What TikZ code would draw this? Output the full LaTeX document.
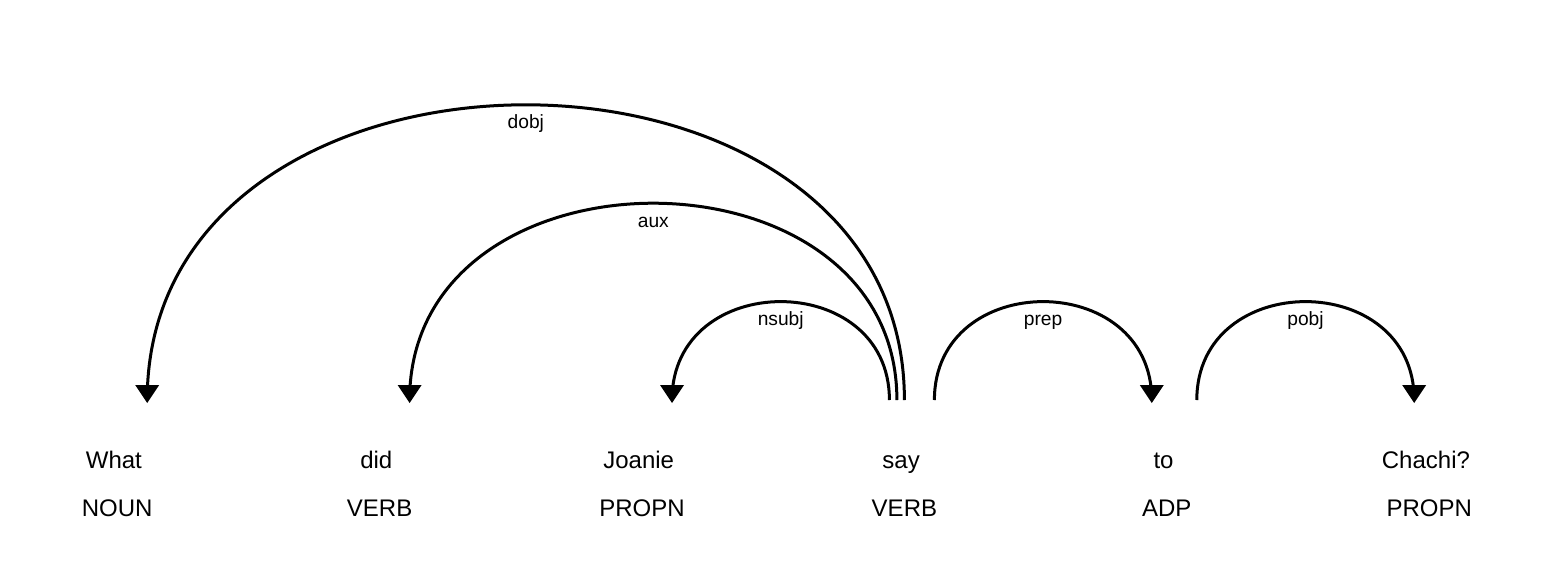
\documentclass[tikz,border=0pt]{standalone}
\usepackage{fontspec}
\setmainfont{Liberation Sans}
\tikzset{
  word/.style={anchor=base, inner sep=0pt, font=\fontsize{24}{28}\selectfont},
  tagtext/.style={anchor=base, inner sep=0pt, font=\fontsize{24}{28}\selectfont},
  deplabel/.style={anchor=base, inner sep=0pt, font=\fontsize{19.2}{22}\selectfont},
  arc/.style={draw=black, line width=3pt},
  head/.style={fill=black}
}
\begin{document}
\begin{tikzpicture}[x=1pt,y=-1pt]
\useasboundingbox (0,0) rectangle (1549,565);
\fill[white] (0,0) rectangle (1549,565);
% words and tags
\node[word] (w0) at (113.9,468) {What};
\node[word] (w1) at (376.3,468) {did};
\node[word] (w2) at (638.7,468) {Joanie};
\node[word] (w3) at (901.1,468) {say};
\node[word] (w4) at (1163.5,468) {to};
\node[word] (w5) at (1425.9,468) {Chachi?};
\node[tagtext] (t0) at (117.2,516) {NOUN};
\node[tagtext] (t1) at (379.6,516) {VERB};
\node[tagtext] (t2) at (642.0,516) {PROPN};
\node[tagtext] (t3) at (904.4,516) {VERB};
\node[tagtext] (t4) at (1166.8,516) {ADP};
\node[tagtext] (t5) at (1429.2,516) {PROPN};
% arc end points
\coordinate (dobjS) at (147.2,400);
\coordinate (dobjE) at (904.4,400);
\coordinate (auxS) at (409.6,400);
\coordinate (auxE) at (896.9,400);
\coordinate (nsubjS) at (672.0,400);
\coordinate (nsubjE) at (889.4,400);
\coordinate (prepS) at (934.4,400);
\coordinate (prepE) at (1151.8,400);
\coordinate (pobjS) at (1196.8,400);
\coordinate (pobjE) at (1414.2,400);
% arcs
\draw[arc] (dobjS) .. controls +(0,-393.6) and +(0,-393.6) .. (dobjE);
\draw[arc] (auxS) .. controls +(0,-262.4) and +(0,-262.4) .. (auxE);
\draw[arc] (nsubjS) .. controls +(0,-131.2) and +(0,-131.2) .. (nsubjE);
\draw[arc] (prepS) .. controls +(0,-131.2) and +(0,-131.2) .. (prepE);
\draw[arc] (pobjS) .. controls +(0,-131.2) and +(0,-131.2) .. (pobjE);
% arrowheads
\fill[head] (dobjS) ++(0,3) -- ++(-12,-18) -- ++(24,0) -- cycle;
\fill[head] (auxS) ++(0,3) -- ++(-12,-18) -- ++(24,0) -- cycle;
\fill[head] (nsubjS) ++(0,3) -- ++(-12,-18) -- ++(24,0) -- cycle;
\fill[head] (prepE) ++(0,3) -- ++(-12,-18) -- ++(24,0) -- cycle;
\fill[head] (pobjE) ++(0,3) -- ++(-12,-18) -- ++(24,0) -- cycle;
% labels
\node[deplabel] (ldobj) at (525.8,128.8) {dobj};
\node[deplabel] (laux) at (653.3,227.2) {aux};
\node[deplabel] (lnsubj) at (780.7,325.6) {nsubj};
\node[deplabel] (lprep) at (1043.1,325.6) {prep};
\node[deplabel] (lpobj) at (1305.5,325.6) {pobj};
\end{tikzpicture}
\end{document}
